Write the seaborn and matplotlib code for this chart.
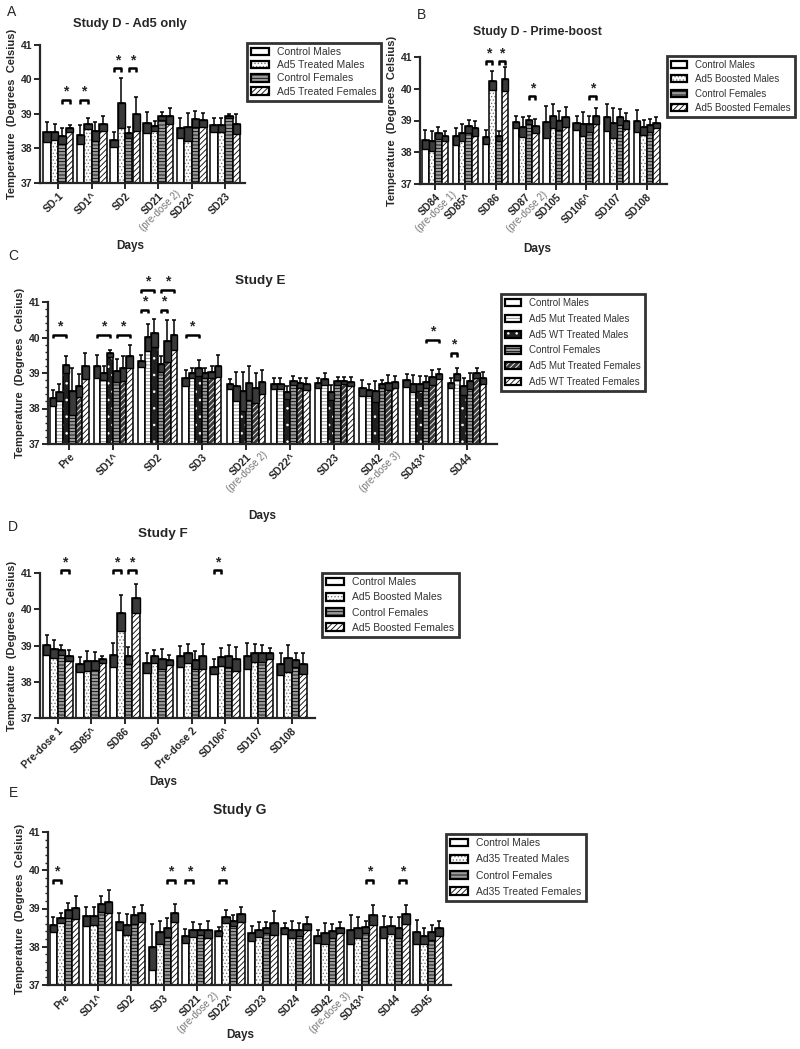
import matplotlib
matplotlib.use('Agg')
import numpy as np
import pandas as pd
import matplotlib.pyplot as plt
import matplotlib.patches as mpatches
import matplotlib.colors as mcolors
from matplotlib.ticker import MultipleLocator
import seaborn as sns

sns.set_style('ticks')
plt.rcParams['font.family'] = ['Liberation Sans', 'DejaVu Sans']
plt.rcParams['hatch.linewidth'] = 0.6

W, H = 800, 1049

# %% data - panel A (Study D - Ad5 only)
days_a = ['SD-1', 'SD1^', 'SD2', 'SD21', 'SD22^', 'SD23']
notes_a = {'SD21': '(pre-dose 2)'}
series_a = ['Control Males', 'Ad5 Treated Males', 'Control Females', 'Ad5 Treated Females']
mean_a = [[38.48, 38.40, 38.26, 38.75, 38.60, 38.68],
          [38.48, 38.72, 39.32, 38.66, 38.63, 38.68],
          [38.36, 38.50, 38.45, 38.94, 38.85, 38.94],
          [38.58, 38.72, 39.01, 38.94, 38.82, 38.72]]
sem_a = [[0.29, 0.28, 0.22, 0.31, 0.29, 0.19],
         [0.22, 0.15, 0.73, 0.14, 0.40, 0.19],
         [0.22, 0.27, 0.16, 0.12, 0.23, 0.07],
         [0.11, 0.22, 0.49, 0.24, 0.21, 0.29]]
sig_a = [(0, 2, 3, 39.40), (1, 0, 1, 39.40), (2, 0, 1, 40.32), (2, 2, 3, 40.32)]

# %% panel B (Study D - Prime-boost)
days_b = ['SD84', 'SD85^', 'SD86', 'SD87', 'SD105', 'SD106^', 'SD107', 'SD108']
notes_b = {'SD84': '(pre-dose 1)', 'SD87': '(pre-dose 2)'}
series_b = ['Control Males', 'Ad5 Boosted Males', 'Control Females', 'Ad5 Boosted Females']
mean_b = [[38.40, 38.50, 38.49, 38.95, 38.95, 38.92, 39.10, 38.98],
          [38.35, 38.62, 40.25, 38.80, 39.15, 38.90, 38.92, 38.78],
          [38.60, 38.82, 38.52, 39.02, 39.00, 38.90, 39.12, 38.85],
          [38.52, 38.75, 40.30, 38.83, 39.12, 39.15, 38.98, 38.93]]
sem_b = [[0.30, 0.26, 0.22, 0.18, 0.50, 0.23, 0.42, 0.35],
         [0.32, 0.28, 0.30, 0.32, 0.38, 0.38, 0.47, 0.25],
         [0.18, 0.20, 0.15, 0.12, 0.30, 0.25, 0.25, 0.20],
         [0.15, 0.25, 0.37, 0.22, 0.32, 0.25, 0.25, 0.17]]
sig_b = [(2, 0, 1, 40.86), (2, 2, 3, 40.86), (3, 2, 3, 39.76), (5, 2, 3, 39.76)]

# %% panel C (Study E)
days_c = ['Pre', 'SD1^', 'SD2', 'SD3', 'SD21', 'SD22^', 'SD23', 'SD42', 'SD43^', 'SD44']
notes_c = {'SD21': '(pre-dose 2)', 'SD42': '(pre-dose 3)'}
series_c = ['Control Males', 'Ad5 Mut Treated Males', 'Ad5 WT Treated Males',
            'Control Females', 'Ad5 Mut Treated Females', 'Ad5 WT Treated Females']
mean_c = [[38.30, 39.19, 39.33, 38.86, 38.69, 38.70, 38.72, 38.58, 38.79, 38.72],
          [38.46, 39.00, 40.01, 39.00, 38.62, 38.70, 38.83, 38.53, 38.70, 38.97],
          [39.23, 39.56, 40.13, 39.14, 38.48, 38.46, 38.46, 38.48, 38.70, 38.62],
          [38.48, 39.07, 39.25, 39.00, 38.72, 38.78, 38.77, 38.70, 38.74, 38.77],
          [38.64, 39.13, 39.91, 39.02, 38.58, 38.72, 38.78, 38.72, 38.88, 39.00],
          [39.19, 39.47, 40.08, 39.19, 38.75, 38.69, 38.76, 38.74, 38.97, 38.86]]
sem_c = [[0.23, 0.33, 0.17, 0.23, 0.14, 0.16, 0.14, 0.23, 0.19, 0.14],
         [0.24, 0.19, 0.38, 0.14, 0.41, 0.16, 0.17, 0.17, 0.23, 0.17],
         [0.24, 0.10, 0.40, 0.22, 0.55, 0.18, 0.21, 0.30, 0.22, 0.24],
         [0.65, 0.32, 0.22, 0.14, 0.49, 0.13, 0.11, 0.11, 0.17, 0.23],
         [0.32, 0.36, 0.59, 0.17, 0.42, 0.14, 0.10, 0.21, 0.21, 0.14],
         [0.37, 0.33, 0.42, 0.31, 0.33, 0.17, 0.12, 0.17, 0.15, 0.17]]
sig_c = [(0, 0, 2, 40.08), (1, 0, 2, 40.08), (1, 3, 5, 40.08), (2, 0, 2, 41.35),
         (2, 3, 5, 41.35), (2, 0, 1, 40.78), (2, 3, 4, 40.78), (3, 0, 2, 40.08),
         (8, 3, 5, 39.94), (9, 0, 1, 39.56)]

# %% panel D (Study F)
days_d = ['Pre-dose 1', 'SD85^', 'SD86', 'SD87', 'Pre-dose 2', 'SD106^', 'SD107', 'SD108']
series_d = ['Control Males', 'Ad5 Boosted Males', 'Control Females', 'Ad5 Boosted Females']
mean_d = [[39.02, 38.48, 38.75, 38.52, 38.70, 38.42, 38.72, 38.48],
          [38.90, 38.58, 39.90, 38.70, 38.78, 38.68, 38.80, 38.65],
          [38.88, 38.58, 38.72, 38.62, 38.60, 38.72, 38.78, 38.60],
          [38.72, 38.62, 40.30, 38.60, 38.70, 38.62, 38.78, 38.50]]
sem_d = [[0.28, 0.21, 0.33, 0.28, 0.30, 0.20, 0.36, 0.30],
         [0.25, 0.28, 0.50, 0.18, 0.27, 0.25, 0.25, 0.37],
         [0.13, 0.25, 0.23, 0.28, 0.25, 0.30, 0.24, 0.20],
         [0.15, 0.09, 0.40, 0.15, 0.35, 0.33, 0.14, 0.28]]
sig_d = [(0, 2, 3, 41.07), (2, 0, 1, 41.07), (2, 2, 3, 41.07), (5, 0, 1, 41.07)]

# %% panel E (Study G)
days_e = ['Pre', 'SD1^', 'SD2', 'SD3', 'SD21', 'SD22^', 'SD23', 'SD24', 'SD42', 'SD43^', 'SD44', 'SD45']
notes_e = {'SD21': '(pre-dose 2)', 'SD42': '(pre-dose 3)'}
series_e = ['Control Males', 'Ad35 Treated Males', 'Control Females', 'Ad35 Treated Females']
mean_e = [[38.58, 38.80, 38.65, 38.00, 38.28, 38.40, 38.35, 38.48, 38.27, 38.45, 38.52, 38.38],
          [38.75, 38.80, 38.58, 38.38, 38.45, 38.78, 38.45, 38.45, 38.35, 38.50, 38.55, 38.28],
          [38.95, 39.12, 38.82, 38.50, 38.45, 38.68, 38.50, 38.45, 38.42, 38.52, 38.50, 38.38],
          [39.02, 39.18, 38.88, 38.88, 38.45, 38.85, 38.62, 38.60, 38.50, 38.83, 38.85, 38.48]]
sem_e = [[0.20, 0.25, 0.22, 0.60, 0.18, 0.12, 0.20, 0.14, 0.16, 0.38, 0.28, 0.32],
         [0.12, 0.23, 0.27, 0.30, 0.20, 0.17, 0.20, 0.22, 0.27, 0.28, 0.22, 0.20],
         [0.20, 0.20, 0.23, 0.25, 0.15, 0.15, 0.15, 0.18, 0.18, 0.15, 0.28, 0.20],
         [0.30, 0.30, 0.22, 0.23, 0.22, 0.20, 0.32, 0.17, 0.15, 0.27, 0.25, 0.20]]
sig_e = [(0, 0, 1, 39.75), (3, 2, 3, 39.75), (4, 0, 1, 39.75), (5, 0, 1, 39.75),
         (9, 2, 3, 39.75), (10, 2, 3, 39.75)]

# fill styles: (facecolor, hatch, hatch colour)
style4 = [('white', '', 'black'), ('white', '.....', '#777777'),
          ('#9a9a9a', '-----', 'black'), ('white', '//////', 'black')]
style6 = [('white', '', 'black'), ('white', '-----', '#888888'), ('#202020', '..', 'white'),
          ('#9a9a9a', '-----', 'black'), ('#3a3a3a', '//////', 'white'), ('white', '//////', 'black')]


def fig_rect(x0, y0, x1, y1):
    return [x0 / W, 1 - y1 / H, (x1 - x0) / W, (y1 - y0) / H]


def draw_panel(ax, days, series, means, sems, styles, sigs, width, xlim, notes={}, minor=False):
    rows = []
    for s, m in zip(series, means):
        for d, v in zip(days, m):
            rows.append({'day': d, 'series': s, 'temp': v})
    df = pd.DataFrame(rows)
    sns.barplot(data=df, x='day', y='temp', hue='series', order=days, hue_order=series,
                width=width, gap=0, errorbar=None, legend=False, ax=ax,
                palette=[st[0] for st in styles], saturation=1,
                edgecolor='black', linewidth=1.1)
    means = np.array(means)
    sems = np.array(sems)
    n = len(series)
    bw = width / n
    centers = np.zeros((n, len(days)))
    for p in ax.patches:
        cx = p.get_x() + p.get_width() / 2
        j = int(round(cx))
        k = int(round((cx - j + width / 2 - bw / 2) / bw))
        fc, hatch, hc = styles[k]
        p.set_facecolor(fc)
        p.set_hatch(hatch)
        p._hatch_color = mcolors.to_rgba(hc)
        centers[k, j] = cx
    # lower half of the SEM drawn dark, upper half as whisker
    ax.bar(centers.ravel(), sems.ravel(), bottom=(means - sems).ravel(), width=bw,
           color='#3a3a3a', edgecolor='black', linewidth=1.0, zorder=3)
    ax.errorbar(centers.ravel(), means.ravel(), yerr=[np.zeros(sems.size), sems.ravel()],
                fmt='none', ecolor='black', elinewidth=1.1, capsize=1.6, capthick=1.1, zorder=4)
    for j, k1, k2, y in sigs:
        x1, x2 = centers[k1, j], centers[k2, j]
        ax.plot([x1, x1, x2, x2], [y - 0.1, y, y, y - 0.1], color='black', lw=1.8,
                clip_on=False, zorder=5, solid_capstyle='butt')
        ax.text((x1 + x2) / 2, y + 0.04, '*', ha='center', va='bottom', fontsize=10,
                fontweight='bold', clip_on=False)
    ax.set_ylim(37, 41)
    ax.set_xlim(*xlim)
    ax.set_yticks([37, 38, 39, 40, 41])
    if minor:
        ax.yaxis.set_minor_locator(MultipleLocator(0.2))
    ax.tick_params(axis='both', width=1.4, length=4, labelsize=7.5, pad=1.5)
    ax.tick_params(axis='y', which='minor', width=1.0, length=2)
    ax.set_xticks(range(len(days)))
    ax.set_xticklabels(days, rotation=45, ha='right', rotation_mode='anchor', fontweight='bold')
    for lab in ax.get_yticklabels():
        lab.set_fontweight('bold')
    for i, d in enumerate(days):
        if d in notes:
            ax.annotate(notes[d], xy=(i, 0), xycoords=('data', 'axes fraction'),
                        xytext=(12, -4), textcoords='offset points', rotation=45,
                        ha='right', va='top', rotation_mode='anchor', fontsize=7,
                        color='#777777')
    ax.set_xlabel('')
    ax.set_ylabel('Temperature  (Degrees  Celsius)', fontweight='bold', fontsize=8, labelpad=3)
    sns.despine(ax=ax)
    for s in ['left', 'bottom']:
        ax.spines[s].set_linewidth(1.6)


def add_legend(fig, series, styles, x, y, size, spacing):
    handles = []
    for fc, hatch, hc in styles:
        h = mpatches.Patch(facecolor=fc, hatch=hatch, edgecolor='black', linewidth=1.6)
        h._hatch_color = mcolors.to_rgba(hc)
        handles.append(h)
    leg = fig.legend(handles, series, loc='upper left', bbox_to_anchor=(x / W, 1 - y / H),
                     borderaxespad=0, fontsize=size, frameon=True, fancybox=False,
                     handlelength=1.7, handleheight=0.75, labelspacing=spacing,
                     borderpad=0.4, handletextpad=0.8, labelcolor='#333333')
    leg.get_frame().set_edgecolor('black')
    leg.get_frame().set_linewidth(2.0)


fig = plt.figure(figsize=(W / 100, H / 100), dpi=100)

ax_a = fig.add_axes(fig_rect(40, 45, 245, 183))
draw_panel(ax_a, days_a, series_a, mean_a, sem_a, style4, sig_a, 0.9, (-0.55, 5.6), notes_a)
ax_b = fig.add_axes(fig_rect(420, 57, 667, 184))
draw_panel(ax_b, days_b, series_b, mean_b, sem_b, style4, sig_b, 0.85, (-0.5, 7.67), notes_b)
ax_c = fig.add_axes(fig_rect(48, 302, 497, 444))
draw_panel(ax_c, days_c, series_c, mean_c, sem_c, style6, sig_c, 0.88, (-0.48, 9.68), notes_c, minor=True)
ax_d = fig.add_axes(fig_rect(40, 573, 315, 718))
draw_panel(ax_d, days_d, series_d, mean_d, sem_d, style4, sig_d, 0.89, (-0.53, 7.69))
ax_e = fig.add_axes(fig_rect(48, 832, 451, 985))
draw_panel(ax_e, days_e, series_e, mean_e, sem_e, style4, sig_e, 0.9, (-0.5, 11.7), notes_e, minor=True)

add_legend(fig, series_a, style4, 247, 43, 7.5, 0.3)
add_legend(fig, series_b, style4, 667, 56, 7, 0.45)
add_legend(fig, series_c, style6, 501, 294, 7, 0.6)
add_legend(fig, series_d, style4, 322, 573, 7.5, 0.5)
add_legend(fig, series_e, style4, 446, 834, 7.5, 0.6)

titles = [('Study D - Ad5 only', 130, 24, 9.3), ('Study D - Prime-boost', 537, 32, 8.8),
          ('Study E', 260, 281, 9.7), ('Study F', 163, 534, 9.7), ('Study G', 240, 810, 10)]
for t, x, y, fs in titles:
    fig.text(x / W, 1 - y / H, t, ha='center', va='center', fontsize=fs, fontweight='bold')

letters = [('A', 12, 12), ('B', 422, 15), ('C', 13, 256), ('D', 13, 527), ('E', 13, 793)]
for t, x, y in letters:
    fig.text(x / W, 1 - y / H, t, ha='center', va='center', fontsize=10)

days_pos = [(130, 246), (537, 249), (262, 516), (163, 782), (240, 1035)]
for x, y in days_pos:
    fig.text(x / W, 1 - y / H, 'Days', ha='center', va='center', fontsize=8.5, fontweight='bold')

fig.savefig('out.png', dpi=100)
